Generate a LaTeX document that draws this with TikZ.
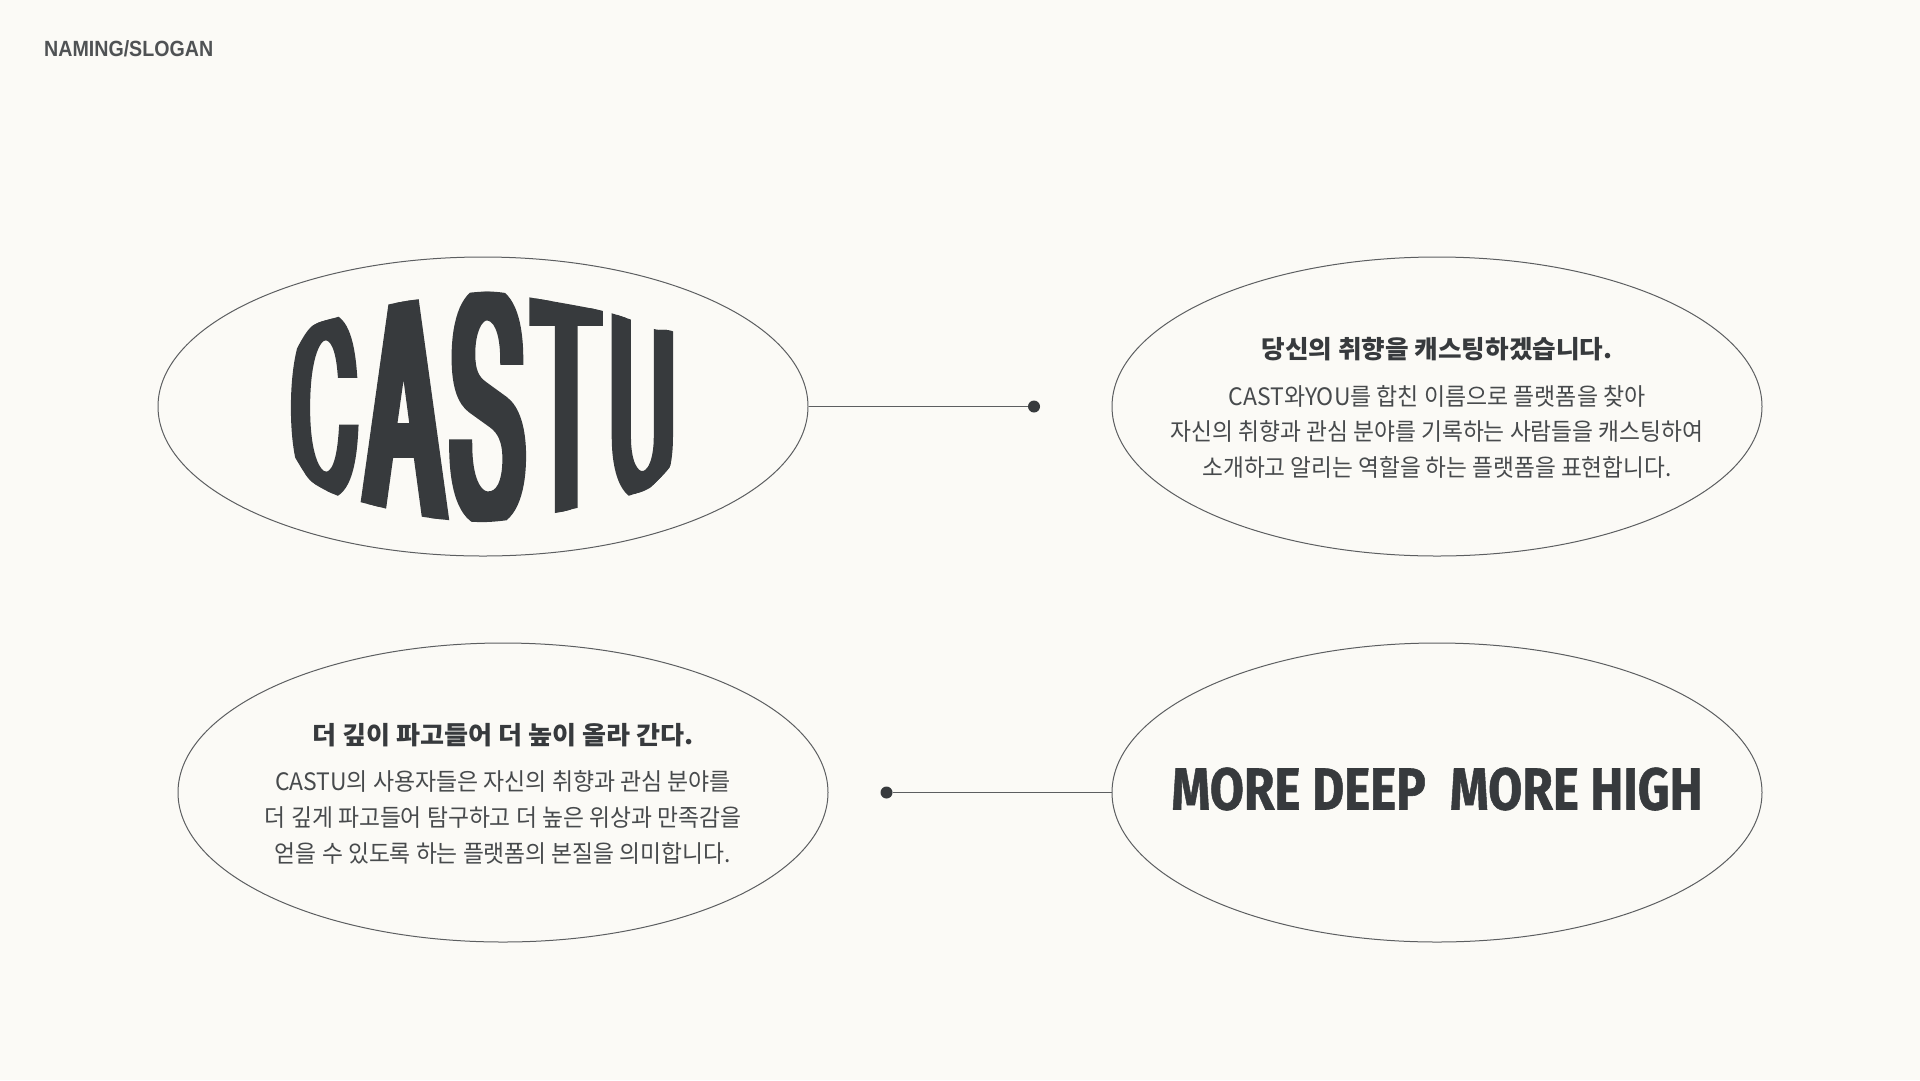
\documentclass[tikz,border=0pt]{standalone}
\usepackage{fontspec}
\usetikzlibrary{shapes.geometric}
\setmainfont{Noto Sans CJK KR}
\newfontfamily\krfont{Noto Sans CJK KR}
\newfontfamily\labelfont{Liberation Sans}
\newfontfamily\sloganfont[FakeBold=1.0]{Fira Sans}
\newfontfamily\logofont[FakeStretch=0.3,FakeBold=3.6]{TeX Gyre Heros}
\definecolor{paper}{HTML}{FBFAF6}
\definecolor{ink}{HTML}{373A3D}
\definecolor{rule}{HTML}{5C5E60}
\newcommand{\fitw}[2]{\resizebox{#1pt}{\height}{#2}}
\newcommand{\logoglyph}[3]{\resizebox*{#1pt}{#2pt}{\logofont\fontsize{320}{320}\selectfont #3}}
\tikzset{
  oval/.style={draw=rule,line width=1pt,ellipse,minimum width=650pt,minimum height=299pt,inner sep=0pt},
  dotnode/.style={circle,fill=ink,inner sep=0pt,minimum size=12pt},
  wire/.style={draw=rule,line width=1pt},
  titletext/.style={text=ink,inner sep=0pt,font=\krfont\bfseries\fontsize{25}{25}\selectfont},
  bodytext/.style={text=ink!92,inner sep=0pt,font=\krfont\fontsize{24}{24}\selectfont},
  logotext/.style={text=ink,inner sep=0pt,anchor=center}
}
\begin{document}
\begin{tikzpicture}[x=1pt,y=-1pt]
\useasboundingbox[fill=paper] (0,0) rectangle (1920,1080);
\node[oval] (e1) at (483,406.5) {};
\node[oval] (e2) at (1437,406.5) {};
\node[oval] (e3) at (503,792.5) {};
\node[oval] (e4) at (1437,792.5) {};
\node[dotnode] (d1) at (1034,406.5) {};
\node[dotnode] (d2) at (886.5,792.5) {};
\draw[wire] (e1) -- (d1);
\draw[wire] (d2) -- (e4);
\node[anchor=west,inner sep=0pt,text=ink!88] (lbl) at (44,48.7) {\fitw{169}{\labelfont\bfseries\fontsize{22}{22}\selectfont NAMING/SLOGAN}};
\begin{scope}
\clip plot[smooth,tension=0.5] coordinates {(288,400) (291,363) (310,328) (336,317.5) (386,305) (420,299) (487,291.5) (533,298) (599,310) (632,320) (654,329) (680,341)
  (680,445) (653,485) (631,495) (600,505) (577,508) (555,513) (487,522) (424,517) (364,503) (336,495) (310,480) (291,450)};
\node[logotext] (lc) at (324.5,406) {\logoglyph{65}{178}{C}};
\node[logotext] (la) at (403.5,408) {\logoglyph{80}{222}{A}};
\node[logotext] (ls) at (487.5,406.5) {\logoglyph{74}{230}{S}};
\node[logotext] (lt) at (566,405) {\logoglyph{65}{218}{T}};
\node[logotext] (lu) at (642,403) {\logoglyph{65}{186}{U}};
\end{scope}
\node[titletext] (t1) at (1437,349) {\fitw{351}{당신의 취향을 캐스팅하겠습니다.}};
\node[bodytext] (b1) at (1437,396) {\fitw{417}{CAST와YOU를 합친 이름으로 플랫폼을 찾아}};
\node[bodytext] (b2) at (1437,431.5) {\fitw{533}{자신의 취향과 관심 분야를 기록하는 사람들을 캐스팅하여}};
\node[bodytext] (b3) at (1437,467.5) {\fitw{469}{소개하고 알리는 역할을 하는 플랫폼을 표현합니다.}};
\node[titletext] (t2) at (503,735.5) {\fitw{381}{더 깊이 파고들어 더 높이 올라 간다.}};
\node[bodytext] (b4) at (503,781.5) {\fitw{456}{CASTU의 사용자들은 자신의 취향과 관심 분야를}};
\node[bodytext] (b5) at (503,817.5) {\fitw{476}{더 깊게 파고들어 탐구하고 더 높은 위상과 만족감을}};
\node[bodytext] (b6) at (503,853) {\fitw{456}{얻을 수 있도록 하는 플랫폼의 본질을 의미합니다.}};
\node[text=ink,inner sep=0pt] (slogan) at (1437,789) {\resizebox*{531pt}{43pt}{\sloganfont\bfseries\fontsize{60}{60}\selectfont MORE DEEP\hspace{0.25em} MORE HIGH}};
\end{tikzpicture}
\end{document}
